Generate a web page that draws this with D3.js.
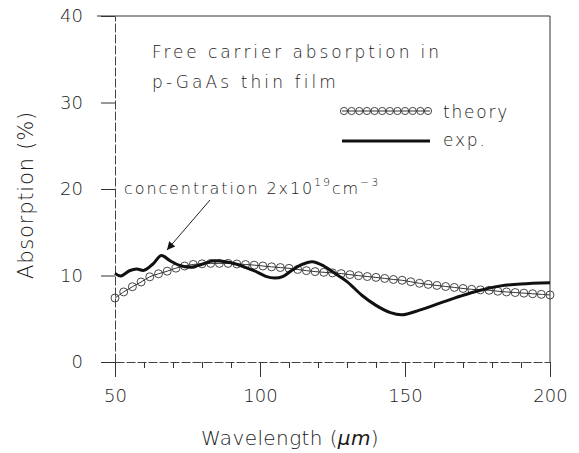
<!DOCTYPE html>
<html>
<head>
<meta charset="utf-8">
<script src="https://cdn.jsdelivr.net/npm/d3@7"></script>
<style>
  body { margin: 0; background: #fff; }
  text { font-family: "DejaVu Sans", sans-serif; fill: #1a1a1a; }
</style>
</head>
<body>
<script>
// wavelength (um) / absorption (%)
var expWavelength = [50, 52, 55, 57.5, 60, 63, 66, 69, 72, 76, 80, 84, 88, 92, 96, 99, 102, 105, 108, 111, 114, 118, 122, 126, 130, 135, 140, 145, 149, 155, 162, 169, 176, 183, 190, 200];
var expAbsorption = [10.25, 9.95, 10.55, 10.75, 10.6, 11.3, 12.3, 11.7, 11.2, 10.95, 11.3, 11.7, 11.6, 11.3, 10.8, 10.4, 9.9, 9.7, 9.9, 10.6, 11.2, 11.6, 11.1, 10.2, 9.3, 7.75, 6.55, 5.7, 5.45, 6.0, 6.8, 7.6, 8.3, 8.8, 9.03, 9.17];

var theoryWavelength = [50, 53, 56, 59, 62, 65, 68, 71, 74, 77, 80, 83, 86, 89, 92, 95, 98, 101, 104, 107, 110, 113, 116, 119, 122, 125, 128, 131, 134, 137, 140, 143, 146, 149, 152, 155, 158, 161, 164, 167, 170, 173, 176, 179, 182, 185, 188, 191, 194, 197, 200];
var theoryAbsorption = [7.4, 8.1, 8.7, 9.25, 9.85, 10.2, 10.5, 10.85, 11.1, 11.28, 11.35, 11.4, 11.4, 11.4, 11.33, 11.27, 11.2, 11.1, 11.0, 10.92, 10.83, 10.7, 10.56, 10.45, 10.37, 10.3, 10.22, 10.1, 9.98, 9.88, 9.78, 9.66, 9.54, 9.45, 9.28, 9.1, 8.97, 8.85, 8.73, 8.62, 8.5, 8.4, 8.34, 8.29, 8.18, 8.1, 8.03, 7.96, 7.89, 7.82, 7.75];

var xMajorTicks = [50, 100, 150, 200];
var xMinorTicks = [60, 70, 80, 90, 110, 120, 130, 140, 160, 170, 180, 190];
var yTicks = [0, 10, 20, 30, 40];

var svgWidth = 579;
var svgHeight = 453;
var margin = { top: 16, right: 29, bottom: 91, left: 115 };
var width = svgWidth - margin.left - margin.right;
var height = svgHeight - margin.top - margin.bottom;

var svg = d3.select("body")
  .append("svg")
  .attr("width", svgWidth)
  .attr("height", svgHeight);

var chartGroup = svg.append("g")
  .attr("transform", `translate(${margin.left}, ${margin.top})`);

var xScale = d3.scaleLinear().domain([50, 200]).range([0, width]);
var yScale = d3.scaleLinear().domain([0, 40]).range([height, 0]);

// frame: top and right solid, left and bottom a bit broken like the scan
chartGroup.append("line")
  .attr("x1", -18).attr("x2", width).attr("y1", 0).attr("y2", 0)
  .attr("stroke", "#333").attr("stroke-width", 1);
chartGroup.append("line")
  .attr("x1", width).attr("x2", width).attr("y1", 0).attr("y2", height)
  .attr("stroke", "#333").attr("stroke-width", 1);

// x axis with major ticks
var bottomAxis = d3.axisBottom(xScale)
  .tickValues(xMajorTicks)
  .tickSize(15)
  .tickPadding(12)
  .tickSizeOuter(0);

var xAxis = chartGroup.append("g")
  .attr("transform", `translate(0, ${height})`)
  .call(bottomAxis);

// minor ticks
var minorAxis = d3.axisBottom(xScale)
  .tickValues(xMinorTicks)
  .tickSize(6)
  .tickFormat("")
  .tickSizeOuter(0);

chartGroup.append("g")
  .attr("transform", `translate(0, ${height})`)
  .call(minorAxis)
  .select(".domain").remove();

var leftAxis = d3.axisLeft(yScale)
  .tickValues(yTicks)
  .tickSize(14)
  .tickPadding(18)
  .tickSizeOuter(0);

var yAxis = chartGroup.append("g")
  .call(leftAxis);

chartGroup.selectAll(".domain")
  .attr("stroke", "#444")
  .attr("stroke-dasharray", "9 2");
chartGroup.selectAll(".tick line").attr("stroke", "#333");
chartGroup.selectAll(".tick text")
  .style("font-size", "18px")
  .style("font-weight", "300")
  .attr("fill", "#1a1a1a");

// theory curve with open circles
var theoryData = theoryWavelength.map((w, i) => ({ x: w, y: theoryAbsorption[i] }));
var expData = expWavelength.map((w, i) => ({ x: w, y: expAbsorption[i] }));

var line = d3.line()
  .x(d => xScale(d.x))
  .y(d => yScale(d.y))
  .curve(d3.curveCatmullRom);

chartGroup.append("path")
  .datum(theoryData)
  .attr("d", line)
  .attr("fill", "none")
  .attr("stroke", "#333")
  .attr("stroke-width", 1);

chartGroup.selectAll(".theory-dot")
  .data(theoryData)
  .enter()
  .append("circle")
  .attr("class", "theory-dot")
  .attr("cx", d => xScale(d.x))
  .attr("cy", d => yScale(d.y))
  .attr("r", 4)
  .attr("fill", "none")
  .attr("stroke", "#333")
  .attr("stroke-width", 0.9);

chartGroup.append("path")
  .datum(expData)
  .attr("d", line)
  .attr("fill", "none")
  .attr("stroke", "#111")
  .attr("stroke-width", 3);

// legend
var legend = svg.append("g");
var legendX = d3.scaleLinear().domain([0, 11]).range([344, 428]);
legend.append("line")
  .attr("x1", 342).attr("x2", 430).attr("y1", 111).attr("y2", 111)
  .attr("stroke", "#333").attr("stroke-width", 1);
legend.selectAll("circle")
  .data(d3.range(12))
  .enter()
  .append("circle")
  .attr("cx", d => legendX(d))
  .attr("cy", 111)
  .attr("r", 3.6)
  .attr("fill", "none")
  .attr("stroke", "#333")
  .attr("stroke-width", 0.9);
legend.append("text")
  .attr("x", 443).attr("y", 118)
  .style("font-size", "17px").style("font-weight", "300")
  .style("letter-spacing", "1.8px")
  .text("theory");
legend.append("line")
  .attr("x1", 342).attr("x2", 430).attr("y1", 141).attr("y2", 141)
  .attr("stroke", "#111").attr("stroke-width", 3);
legend.append("text")
  .attr("x", 443).attr("y", 146)
  .style("font-size", "17px").style("font-weight", "300")
  .style("letter-spacing", "1.8px")
  .text("exp.");

// title note
svg.append("text")
  .attr("x", 152).attr("y", 58)
  .style("font-size", "17px").style("font-weight", "300")
  .style("letter-spacing", "2.9px")
  .text("Free carrier absorption in");
svg.append("text")
  .attr("x", 152).attr("y", 88)
  .style("font-size", "17px").style("font-weight", "300")
  .style("letter-spacing", "3.1px")
  .text("p-GaAs thin film");

// concentration annotation with arrow
var note = svg.append("text")
  .attr("x", 124).attr("y", 194)
  .style("font-size", "16px").style("font-weight", "300")
  .style("letter-spacing", "1.9px");
note.append("tspan").text("concentration 2x10");
note.append("tspan").attr("dy", -8).style("font-size", "11px").text("19");
note.append("tspan").attr("dy", 8).text("cm");
note.append("tspan").attr("dy", -8).style("font-size", "11px").text("\u22123");

svg.append("defs").append("marker")
  .attr("id", "arrow")
  .attr("viewBox", "0 0 10 10")
  .attr("refX", 10).attr("refY", 5)
  .attr("markerWidth", 12).attr("markerHeight", 8)
  .attr("markerUnits", "userSpaceOnUse")
  .attr("orient", "auto")
  .append("path")
  .attr("d", "M0,0 L10,5 L0,10 z")
  .attr("fill", "#111");

svg.append("line")
  .attr("x1", 210).attr("y1", 200)
  .attr("x2", 167).attr("y2", 250)
  .attr("stroke", "#222").attr("stroke-width", 1)
  .attr("marker-end", "url(#arrow)");

// axis titles
var xTitle = svg.append("text")
  .attr("x", 290).attr("y", 445)
  .attr("text-anchor", "middle")
  .style("font-size", "20px").style("font-weight", "300")
  .style("letter-spacing", "0.4px");
xTitle.append("tspan").text("Wavelength (");
xTitle.append("tspan").style("font-style", "italic").text("\u03bcm");
xTitle.append("tspan").text(")");

svg.append("text")
  .attr("transform", "translate(33, 195) rotate(-90)")
  .attr("text-anchor", "middle")
  .style("font-size", "21px").style("font-weight", "300")
  .style("letter-spacing", "0.8px")
  .text("Absorption (%)");
</script>
</body>
</html>
